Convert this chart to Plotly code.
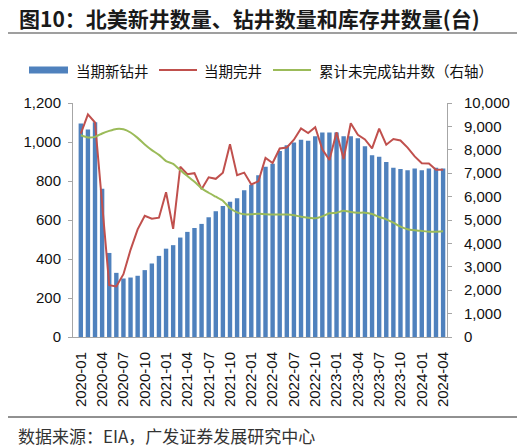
import plotly.graph_objects as go

# monthly data, 2020-01 .. 2024-04
months = [f"{y}-{m:02d}" for y in range(2020, 2025) for m in range(1, 13)][:52]

new_drilled = [1095, 1064, 1101, 760, 431, 329, 300, 305, 314, 343, 377, 416,
               453, 471, 510, 539, 559, 580, 614, 645, 672, 694, 712, 753,
               781, 829, 873, 888, 954, 983, 997, 1011, 1006, 1029, 1049, 1049,
               1049, 1030, 1030, 1019, 978, 932, 924, 897, 868, 861, 855, 864,
               855, 864, 868, 864]

completed = [1043, 1142, 1100, 683, 266, 259, 322, 447, 552, 622, 607, 612,
             742, 555, 873, 835, 840, 758, 819, 811, 842, 989, 830, 843,
             782, 799, 918, 892, 967, 972, 1012, 1070, 1046, 1076, 962, 908,
             1050, 913, 1096, 1037, 1013, 967, 1069, 986, 1015, 1008, 971, 926,
             891, 890, 858, 858]

duc_total = [8624, 8530, 8552, 8697, 8808, 8893, 8880, 8739, 8509, 8228, 7985, 7784,
             7516, 7400, 7132, 6876, 6634, 6351, 6164, 5994, 5823, 5499, 5329, 5244,
             5244, 5270, 5244, 5235, 5230, 5230, 5200, 5143, 5100, 5072, 5157, 5285,
             5314, 5398, 5342, 5314, 5314, 5256, 5128, 5029, 4887, 4715, 4604, 4561,
             4532, 4503, 4503, 4517]

tick_labels = months[::3]

# page body has an 8px margin, so the figure is drawn 8px smaller and
# layout positions below are given in window pixels minus that offset
OFF = 8
W, H = 527 - OFF, 448 - OFF
ML, MT = 73 - OFF, 103 - OFF
MR, MB = W - (447 - OFF), H - (337 - OFF)
PW, PH = W - ML - MR, H - MT - MB


def px(x):
    return (x - OFF - ML) / PW


def py(y):
    return (H - MB - (y - OFF)) / PH


BLUE = "#4F81BD"
RED = "#C0504D"
GREEN = "#9BBB59"
AX = "#A6A6A6"
FONT = "Arial, Liberation Sans, Noto Sans CJK SC"
CJK = "Noto Sans CJK SC"

fig = go.Figure()

fig.add_trace(go.Bar(
    x=months, y=new_drilled, name="当期新钻井",
    marker=dict(color=BLUE, line=dict(width=0)), width=0.62
))
fig.add_trace(go.Scatter(
    x=months, y=completed, name="当期完井", mode="lines",
    line=dict(color=RED, width=2)
))
fig.add_trace(go.Scatter(
    x=months, y=duc_total, name="累计未完成钻井数（右轴）", mode="lines",
    yaxis="y2", line=dict(color=GREEN, width=2, shape="spline", smoothing=0.5)
))

fig.update_layout(
    width=W, height=H,
    margin=dict(l=ML, r=MR, t=MT, b=MB),
    paper_bgcolor="white", plot_bgcolor="white",
    showlegend=False,
    font=dict(family=FONT, size=15, color="#111"),
    xaxis=dict(
        type="category", range=[-1.1, 51.55],
        tickmode="array", tickvals=tick_labels, ticktext=tick_labels,
        tickangle=-90, ticks="", showline=True, linecolor=AX, linewidth=1,
        showgrid=False, ticklabelstandoff=8, tickfont=dict(size=15)
    ),
    yaxis=dict(
        range=[0, 1200], dtick=200, tickformat=",", showgrid=False,
        showline=True, linecolor=AX, linewidth=1, ticks="outside",
        ticklen=4, tickcolor=AX, zeroline=False, ticklabelstandoff=4
    ),
    yaxis2=dict(
        range=[0, 10000], dtick=1000, tickformat=",", overlaying="y",
        side="right", showgrid=False, showline=True, linecolor=AX,
        linewidth=1, ticks="outside", ticklen=4, tickcolor=AX,
        zeroline=False, ticklabelstandoff=9
    ),
)

shapes = [
    # rule under title and above source
    dict(type="line", xref="paper", yref="paper", x0=px(6), x1=px(517),
         y0=py(33), y1=py(33), line=dict(color="#7F7F7F", width=1.5)),
    dict(type="line", xref="paper", yref="paper", x0=px(6), x1=px(517),
         y0=py(417), y1=py(417), line=dict(color="#222", width=1)),
    # legend keys
    dict(type="rect", xref="paper", yref="paper", x0=px(29), x1=px(68),
         y0=py(73.5), y1=py(66.5), fillcolor=BLUE, line=dict(width=0)),
    dict(type="line", xref="paper", yref="paper", x0=px(159), x1=px(197),
         y0=py(70), y1=py(70), line=dict(color=RED, width=2)),
    dict(type="line", xref="paper", yref="paper", x0=px(273), x1=px(311),
         y0=py(70), y1=py(70), line=dict(color=GREEN, width=2)),
]

annotations = [
    dict(text="<b>图10：北美新井数量、钻井数量和库存井数量(台)</b>",
         x=px(17), y=py(18), xanchor="left", yanchor="middle",
         font=dict(family=CJK, size=21, color="#1a1a1a")),
    dict(text="当期新钻井", x=px(74), y=py(70), xanchor="left", yanchor="middle",
         font=dict(family=CJK, size=14.5, color="#111")),
    dict(text="当期完井", x=px(202), y=py(70), xanchor="left", yanchor="middle",
         font=dict(family=CJK, size=14.5, color="#111")),
    dict(text="累计未完成钻井数（右轴）", x=px(317), y=py(70), xanchor="left",
         yanchor="middle", font=dict(family=CJK, size=14.5, color="#111")),
    dict(text="数据来源：EIA，广发证券发展研究中心", x=px(16), y=py(435),
         xanchor="left", yanchor="middle",
         font=dict(family=CJK, size=17, color="#333")),
]
for a in annotations:
    a.update(xref="paper", yref="paper", showarrow=False)

fig.update_layout(shapes=shapes, annotations=annotations)

fig.write_html("out.html")
